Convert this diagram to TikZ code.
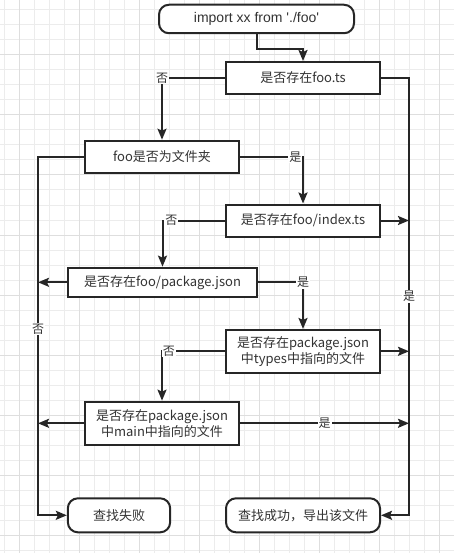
\documentclass[tikz,border=0pt]{standalone}
\usepackage{fontspec}
\setmainfont{Noto Sans CJK SC}
\newfontfamily\latinfont{Liberation Sans}
\usetikzlibrary{arrows.meta, positioning}
\usepackage{xcolor}
\definecolor{flowline}{RGB}{38,38,38}
\definecolor{flowtext}{RGB}{51,51,51}
\definecolor{gridlight}{RGB}{236,236,236}
\definecolor{griddark}{RGB}{222,222,222}

\begin{document}
\begin{tikzpicture}[>={Stealth[length=11pt, width=9pt, inset=2pt]}, x=1pt, y=-1pt,
      box/.style={draw=flowline, line width=2pt, fill=white, text=flowtext,
                  font=\fontsize{13}{16}\selectfont, align=center,
                  minimum width=154pt, minimum height=32pt, inner sep=2pt},
      term/.style={box, rounded corners=10pt, minimum height=34pt},
      lbl/.style={fill=white, text=flowtext, font=\fontsize{12}{14}\selectfont, inner sep=1pt},
      arr/.style={->, line width=2pt, flowline}]
    \useasboundingbox (0,0) rectangle (454,553);
    % grid
    \foreach \gx in {4.3,19.3,...,454} \draw[gridlight, line width=1pt] (\gx,0) -- (\gx,553);
    \foreach \gy in {10,25,...,553} \draw[gridlight, line width=1pt] (0,\gy) -- (454,\gy);
    \foreach \gx in {19.3,79.3,...,454} \draw[griddark, line width=1pt] (\gx,0) -- (\gx,553);
    \foreach \gy in {55,115,...,553} \draw[griddark, line width=1pt] (0,\gy) -- (454,\gy);
    % nodes
    \node[term, minimum width=195pt, minimum height=28.5pt,
          font=\latinfont\fontsize{14}{16}\selectfont] (start) at (256.5,19) {import xx from \char"0027./foo\char"0027};
    \node[box] (ts)    at (303,78)    {是否存在foo.ts};
    \node[box] (dir)   at (162,156.7) {foo是否为文件夹};
    \node[box] (index) at (303,220.5) {是否存在foo/index.ts};
    \node[box, minimum width=189.6pt, minimum height=29.3pt] (pkg) at (162.5,282.3) {是否存在foo/package.json};
    \node[box, minimum height=42.7pt] (types) at (303,351.3) {是否存在package.json\\中types中指向的文件};
    \node[box, minimum height=43.3pt] (main)  at (162,423.3) {是否存在package.json\\中main中指向的文件};
    \node[term, minimum width=102.3pt] (fail) at (119,515.3) {查找失败};
    \node[term] (ok) at (303,515.3) {查找成功，导出该文件};
    \coordinate (failbus) at (38,515.3);
    \coordinate (okbus)   at (409,515.3);
    % arrows
    \draw[arr] (start.south) -- ++(0,14.5) -| (ts.north);
    \draw[arr] (ts.west) -| node[lbl, pos=0.5]{否} (dir.north);
    \draw[arr] (ts.east) -| node[lbl, pos=0.75]{是} (okbus) -- (ok.east);
    \draw[arr] (dir.east) -| node[lbl, pos=0.44]{是} (index.north);
    \draw[arr] (dir.west) -| node[lbl, pos=0.74]{否} (failbus) -- (fail.west);
    \draw[arr] (index.east) -- (index.east -| okbus);
    \draw[arr] (index.west) -| node[lbl, pos=0.43]{否} (pkg.north);
    \draw[arr] (pkg.west) -- (pkg.west -| failbus);
    \draw[arr] (pkg.east) -| node[lbl, pos=0.5]{是} (types.north);
    \draw[arr] (types.east) -- (types.east -| okbus);
    \draw[arr] (types.west) -| node[lbl, pos=0.445]{否} (main.north);
    \draw[arr] (main.west) -- (main.west -| failbus);
    \draw[arr] (main.east) -- node[lbl]{是} (main.east -| okbus);
  \end{tikzpicture}
\end{document}
